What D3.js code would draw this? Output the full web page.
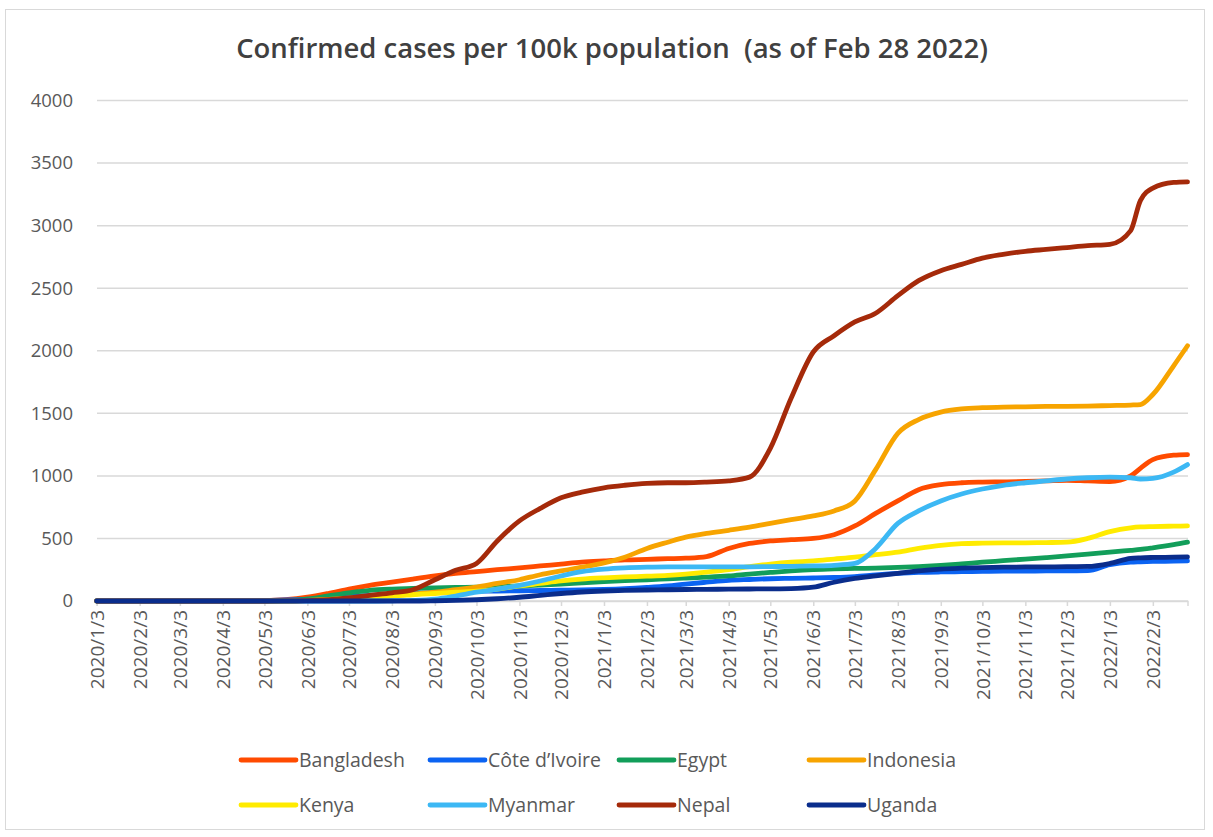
<!DOCTYPE html>
<html>
<head>
<meta charset="utf-8">
<script src="https://cdn.jsdelivr.net/npm/d3@7"></script>
<style>
  body { margin: 0; background: #fff; }
  svg text { font-family: 'Open Sans', sans-serif; fill: #595959; }
</style>
</head>
<body>
<div class="Canvas"></div>
<script>
// sample dates (3rd and 18th of each month, plus 25 Jan 2022 and the last day)
const dates = [
  '2020-01-03', '2020-01-18', '2020-02-03', '2020-02-18', '2020-03-03', '2020-03-18',
  '2020-04-03', '2020-04-18', '2020-05-03', '2020-05-18', '2020-06-03', '2020-06-18',
  '2020-07-03', '2020-07-18', '2020-08-03', '2020-08-18', '2020-09-03', '2020-09-18',
  '2020-10-03', '2020-10-18', '2020-11-03', '2020-11-18', '2020-12-03', '2020-12-18',
  '2021-01-03', '2021-01-18', '2021-02-03', '2021-02-18', '2021-03-03', '2021-03-18',
  '2021-04-03', '2021-04-18', '2021-05-03', '2021-05-18', '2021-06-03', '2021-06-18',
  '2021-07-03', '2021-07-18', '2021-08-03', '2021-08-18', '2021-09-03', '2021-09-18',
  '2021-10-03', '2021-10-18', '2021-11-03', '2021-11-18', '2021-12-03', '2021-12-18',
  '2022-01-03', '2022-01-18', '2022-01-25', '2022-02-03', '2022-02-18', '2022-02-28',
];

const bangladesh = [0, 0, 0, 0, 0, 0, 0, 0, 2, 10, 30, 60, 95, 125, 150, 175, 200, 220,
  235, 250, 265, 280, 295, 310, 320, 328, 333, 338, 342, 355, 420, 460, 480, 490, 500, 530,
  600, 700, 800, 890, 930, 945, 950, 952, 955, 960, 965, 960, 955, 1000, 1060, 1130, 1165, 1170];
const coteDIvoire = [0, 0, 0, 0, 0, 0, 0, 0, 3, 8, 15, 25, 35, 45, 55, 62, 68, 73,
  77, 80, 82, 84, 86, 88, 92, 98, 108, 120, 135, 150, 165, 172, 178, 181, 184, 188,
  195, 208, 220, 228, 232, 234, 236, 238, 239, 240, 241, 243, 290, 310, 313, 316, 318, 320];
const egypt = [0, 0, 0, 0, 0, 0, 0, 0, 0, 3, 15, 40, 65, 85, 95, 100, 105, 108,
  110, 115, 120, 127, 135, 145, 155, 163, 170, 177, 183, 190, 200, 215, 228, 240, 250, 256,
  260, 263, 268, 275, 285, 297, 310, 322, 335, 347, 360, 375, 390, 405, 412, 425, 450, 470];
const indonesia = [0, 0, 0, 0, 0, 0, 0, 0, 0, 0, 5, 12, 22, 32, 42, 55, 70, 90,
  110, 140, 170, 210, 240, 270, 305, 350, 420, 470, 510, 540, 565, 590, 620, 650, 680, 720,
  800, 1050, 1340, 1450, 1510, 1535, 1545, 1550, 1552, 1555, 1556, 1558, 1562, 1566, 1570, 1650, 1880, 2040];
const kenya = [0, 0, 0, 0, 0, 0, 0, 0, 0, 0, 3, 8, 15, 25, 40, 50, 60, 70,
  78, 95, 120, 140, 160, 175, 185, 192, 198, 205, 215, 230, 250, 275, 295, 310, 320, 335,
  350, 370, 390, 420, 445, 458, 462, 464, 465, 467, 470, 500, 555, 585, 592, 595, 598, 600];
const myanmar = [0, 0, 0, 0, 0, 0, 0, 0, 0, 0, 0, 0, 0, 0, 2, 5, 15, 40,
  70, 95, 125, 160, 200, 235, 255, 265, 270, 272, 272, 272, 272, 273, 275, 277, 280, 285,
  300, 420, 620, 720, 800, 855, 895, 925, 945, 960, 975, 985, 990, 985, 975, 980, 1030, 1090];
const nepal = [0, 0, 0, 0, 0, 0, 0, 0, 0, 1, 3, 10, 25, 45, 65, 90, 170, 245,
  300, 480, 640, 740, 825, 870, 905, 925, 940, 945, 945, 950, 960, 990, 1220, 1620, 1990, 2120,
  2230, 2300, 2440, 2560, 2640, 2690, 2740, 2770, 2795, 2810, 2825, 2840, 2850, 2960, 3200, 3300, 3345, 3350];
const uganda = [0, 0, 0, 0, 0, 0, 0, 0, 0, 0, 0, 0, 0, 0, 0, 0, 2, 5,
  10, 18, 30, 45, 60, 72, 80, 85, 88, 90, 92, 93, 95, 96, 97, 99, 110, 150,
  180, 200, 220, 240, 255, 262, 267, 270, 272, 273, 274, 276, 300, 340, 345, 348, 350, 352];

const countries = ['Bangladesh', 'Côte d’Ivoire', 'Egypt', 'Indonesia', 'Kenya', 'Myanmar', 'Nepal', 'Uganda'];
const seriesValues = [bangladesh, coteDIvoire, egypt, indonesia, kenya, myanmar, nepal, uganda];
const colors = ['#FF4B00', '#0B63F2', '#129E5A', '#F7A400', '#FFEB00', '#3CB8F4', '#A52A0A', '#0A2D8C'];

const xTickLabels = ['2020/1/3', '2020/2/3', '2020/3/3', '2020/4/3', '2020/5/3', '2020/6/3', '2020/7/3',
  '2020/8/3', '2020/9/3', '2020/10/3', '2020/11/3', '2020/12/3', '2021/1/3', '2021/2/3', '2021/3/3',
  '2021/4/3', '2021/5/3', '2021/6/3', '2021/7/3', '2021/8/3', '2021/9/3', '2021/10/3', '2021/11/3',
  '2021/12/3', '2022/1/3', '2022/2/3'];
const yTicks = [0, 500, 1000, 1500, 2000, 2500, 3000, 3500, 4000];

const title = 'Confirmed cases per 100k population  (as of Feb 28 2022)';

const width = 1213;
const height = 837;
const lineWidth = 4.8;
const titleWidth = 752;

const parseDay = d3.timeParse('%Y-%m-%d');
const parseTick = (s) => {
  const p = s.split('/').map(Number);
  return new Date(p[0], p[1] - 1, p[2]);
};
const days = dates.map(parseDay);

const svg = d3.select('.Canvas').append('svg').attr('width', width).attr('height', height);

// outer frame
svg.append('rect')
  .attr('x', 5.5).attr('y', 9.5)
  .attr('width', 1199).attr('height', 820)
  .attr('fill', 'white')
  .attr('stroke', '#d9d9d9')
  .attr('stroke-width', 1);

const x = d3.scaleTime()
  .domain([days[0], days[days.length - 1]])
  .range([96.7, 1187.5]);
const y = d3.scaleLinear().domain([0, 4000]).range([601, 100.5]);

// title, font size fitted to the reference width
const titleText = svg.append('text')
  .attr('x', 612).attr('y', 58)
  .attr('text-anchor', 'middle')
  .attr('font-size', '24px')
  .attr('font-weight', 600)
  .style('fill', '#404040')
  .style('white-space', 'pre')
  .text(title);
const tw = titleText.node().getComputedTextLength();
if (tw > 0) titleText.attr('font-size', `${(24 * titleWidth) / tw}px`);

// grid
svg.append('g')
  .selectAll('line')
  .data(yTicks)
  .enter()
  .append('line')
  .attr('x1', 97).attr('x2', 1188)
  .attr('y1', (d) => y(d)).attr('y2', (d) => y(d))
  .attr('stroke', '#d9d9d9')
  .attr('stroke-width', 1.5);

// y axis labels
const yAxis = svg.append('g')
  .attr('transform', 'translate(82,0)')
  .call(d3.axisLeft(y).tickValues(yTicks).tickSize(0).tickPadding(9).tickFormat(d3.format('d')));
yAxis.select('.domain').remove();
yAxis.selectAll('text').attr('font-size', '18.5px').style('fill', '#595959');

// x axis
const xAxis = svg.append('g')
  .attr('transform', `translate(0,${y(0)})`)
  .call(d3.axisBottom(x)
    .tickValues(xTickLabels.map(parseTick))
    .tickSize(5)
    .tickFormat(d3.timeFormat('%Y/%-m/%-d')));
xAxis.select('.domain').attr('stroke', '#d9d9d9').attr('stroke-width', 1.5);
xAxis.selectAll('.tick line').attr('stroke', '#d9d9d9').attr('stroke-width', 1.5);
xAxis.selectAll('text')
  .attr('transform', 'rotate(-90)')
  .attr('x', -9)
  .attr('y', 0)
  .attr('dy', '0.35em')
  .attr('text-anchor', 'end')
  .attr('font-size', '19px')
  .style('fill', '#595959');

// series
const line = d3.line()
  .x((d) => x(d.date))
  .y((d) => y(d.value))
  .curve(d3.curveMonotoneX);

const series = countries.map((name, i) => ({
  name: name,
  color: colors[i],
  points: days.map((date, j) => ({ date: date, value: seriesValues[i][j] })),
}));

svg.append('g')
  .selectAll('path')
  .data(series)
  .enter()
  .append('path')
  .attr('d', (d) => line(d.points))
  .attr('fill', 'none')
  .attr('stroke', (d) => d.color)
  .attr('stroke-width', lineWidth)
  .attr('stroke-linejoin', 'round')
  .attr('stroke-linecap', 'round');

// legend
const legendCols = [239, 428, 617, 807];
const legendRows = [760, 805];
const legend = svg.append('g')
  .selectAll('g')
  .data(series)
  .enter()
  .append('g')
  .attr('transform', (d, i) => `translate(${legendCols[i % 4]},${legendRows[Math.floor(i / 4)]})`);
legend.append('line')
  .attr('x1', 2).attr('x2', 57)
  .attr('y1', 0).attr('y2', 0)
  .attr('stroke', (d) => d.color)
  .attr('stroke-width', lineWidth)
  .attr('stroke-linecap', 'round');
legend.append('text')
  .attr('x', 60)
  .attr('y', 0)
  .attr('dy', '0.35em')
  .attr('font-size', '19.5px')
  .style('fill', '#595959')
  .text((d) => d.name);
</script>
</body>
</html>
